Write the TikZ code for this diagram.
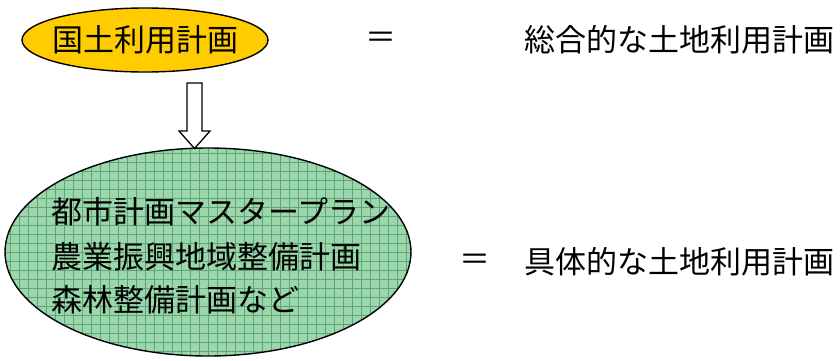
\documentclass[tikz,border=0pt]{standalone}
\usepackage{fontspec}
\usetikzlibrary{shapes.geometric}
\setmainfont{Noto Sans CJK JP}
\newfontfamily\jpfont{Noto Sans CJK JP}
\definecolor{kYellow}{HTML}{FFCC00}
\definecolor{kGreenA}{HTML}{9DD5AC}
\definecolor{kGreenB}{HTML}{58A873}
\begin{document}
\begin{tikzpicture}[x=1pt,y=-1pt,
  jp/.style={font=\jpfont\fontsize{31}{36}\selectfont, inner sep=0pt},
  outl/.style={draw=black, line width=1.4pt},
  gridline/.style={kGreenB, line width=0.55pt}]
\useasboundingbox (0,0) rectangle (840,360);
% top ellipse
\node[outl, ellipse, fill=kYellow, minimum width=246pt, minimum height=64pt, inner sep=0pt] (top) at (145,40) {};
\node[jp, anchor=center] (toptxt) at (top.center) {国土利用計画};
% big ellipse with grid
\node[outl, ellipse, minimum width=406pt, minimum height=208pt, inner sep=0pt,
  path picture={
    \fill[kGreenA] (path picture bounding box.south west) rectangle (path picture bounding box.north east);
    \foreach \i in {-23,...,23} {
      \draw[gridline] (\i*9,-120) -- (\i*9,120);
    }
    \foreach \j in {-13,...,13} {
      \draw[gridline] (-215,\j*9) -- (215,\j*9);
    }
  }] (big) at (208,252) {};
% block arrow
\coordinate (atip) at (194.5,148.5);
\draw[black, line width=1.3pt, fill=white, line join=miter]
  (187,83) -- (202,83) -- (202,131) -- (210,131) -- (atip) -- (179,131) -- (187,131) -- cycle;
\node[jp, anchor=west] (l1) at (51,212) {都市計画マスタープラン};
\node[jp, anchor=west] (l2) at (51,257) {農業振興地域整備計画};
\node[jp, anchor=west] (l3) at (51,300) {森林整備計画など};
% equals and right texts
\node[jp, anchor=center] (eq1) at (381,40) {＝};
\node[jp, anchor=west] (r1) at (524,40) {総合的な土地利用計画};
\node[jp, anchor=center] (eq2) at (475,262) {＝};
\node[jp, anchor=west] (r2) at (524,262) {具体的な土地利用計画};
\end{tikzpicture}
\end{document}
